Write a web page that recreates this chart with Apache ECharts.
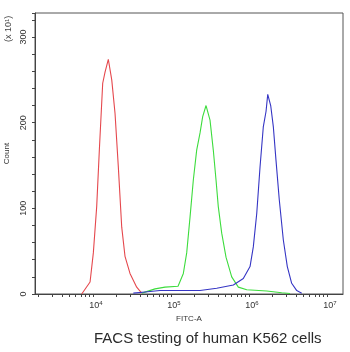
<!DOCTYPE html>
<html>
<head>
<meta charset="utf-8">
<script src="https://cdn.jsdelivr.net/npm/echarts@6/dist/echarts.min.js"></script>
<style>html,body{margin:0;padding:0;background:#fff}#c{width:350px;height:352px}</style>
</head>
<body>
<div id="c"></div>
<script>
// FITC-A values stored as log10 exponents; counts in units of x10^1
var redLogX = [3.855, 3.962, 4.004, 4.047, 4.081, 4.124, 4.154, 4.196, 4.240, 4.282, 4.324, 4.368, 4.410, 4.474, 4.560, 4.624];
var redCount = [0, 14, 48, 102, 168, 246, 259, 274, 250, 211, 149, 78, 44, 24, 8, 1];

var greenLogX = [4.628, 4.795, 4.923, 5.090, 5.158, 5.201, 5.244, 5.286, 5.329, 5.372, 5.406, 5.449, 5.500, 5.542, 5.577, 5.606, 5.650, 5.705, 5.778, 5.863, 5.971, 6.227, 6.419, 6.526];
var greenCount = [1, 6, 8, 9, 24, 48, 90, 133, 168, 188, 207, 220, 203, 168, 133, 102, 71, 43, 20, 8, 5, 3.5, 1.5, 0.5];

var blueLogX = [4.517, 4.667, 4.859, 5.115, 5.372, 5.586, 5.799, 5.927, 6.013, 6.055, 6.099, 6.141, 6.183, 6.218, 6.240, 6.278, 6.312, 6.346, 6.388, 6.440, 6.491, 6.547, 6.612, 6.676];
var blueCount = [1, 2.3, 4, 4, 4, 6.7, 10.5, 18, 32, 55, 94, 148, 195, 213, 233, 220, 195, 156, 110, 63, 32, 12.5, 4, 1];

var xMajorExp = [4, 5, 6, 7];
var xMin = 3.256, xMax = 7.205;
var yMax = 328;

function pairs(xs, ys) { return xs.map(function (x, i) { return [x, ys[i]]; }); }
var minorTicks = [];
for (var n = 3; n <= 7; n++) {
  for (var k = 1; k <= 9; k++) {
    var v = n + Math.log10(k);
    if (v >= xMin && v <= xMax) minorTicks.push(v);
  }
}
var font = 'Liberation Sans, Arial, sans-serif';
var chart = echarts.init(document.getElementById('c'));
chart.setOption({
  animation: false,
  textStyle: { fontFamily: font },
  grid: { left: 35, top: 13, right: 7, bottom: 58, show: true, borderColor: '#555', borderWidth: 1, outerBoundsMode: 'none', containLabel: false },
  title: {
    text: 'FACS testing of human K562 cells', left: 89, top: 326,
    textStyle: { fontSize: 15, fontWeight: 'normal', color: '#2a2a2a', fontFamily: font }
  },
  graphic: [{
    type: 'text', x: 4, y: 42, rotation: Math.PI / 2,
    style: {
      text: '(x 10{s|1})', fontSize: 9, fill: '#444', fontFamily: font,
      rich: { s: { fontSize: 6, verticalAlign: 'top', fill: '#444', padding: [0, 0, 4, 0] } }
    }
  }],
  xAxis: {
    type: 'value', min: xMin, max: xMax,
    name: 'FITC-A', nameLocation: 'middle', nameGap: 19,
    nameTextStyle: { fontSize: 8, color: '#333' },
    axisLine: { lineStyle: { color: '#444' } },
    axisTick: { show: true, length: 3, customValues: minorTicks, lineStyle: { color: '#444' } },
    axisLabel: {
      customValues: xMajorExp, margin: 6, color: '#333', fontSize: 9, padding: [0, 0, 0, 6],
      formatter: function (v) { return '10{s|' + Math.round(v) + '}'; },
      rich: { s: { fontSize: 6, verticalAlign: 'top', padding: [0, 0, 5, 0], color: '#333' } }
    },
    splitLine: { show: false }
  },
  yAxis: {
    type: 'value', min: 0, max: yMax, interval: 100,
    name: 'Count', nameLocation: 'middle', nameGap: 21, nameRotate: 90,
    nameTextStyle: { fontSize: 8, color: '#333' },
    axisLine: { show: true, lineStyle: { color: '#444' } },
    axisTick: { show: true, length: 3, lineStyle: { color: '#444' } },
    minorTick: { show: true, splitNumber: 5, length: 3, lineStyle: { color: '#444' } },
    axisLabel: { rotate: 90, margin: 7, fontSize: 9, color: '#333', showMaxLabel: false },
    splitLine: { show: false }
  },
  series: [
    { type: 'line', data: pairs(redLogX, redCount), showSymbol: false, smooth: false, lineStyle: { color: '#e5484d', width: 1.1 } },
    { type: 'line', data: pairs(greenLogX, greenCount), showSymbol: false, smooth: false, lineStyle: { color: '#3ddc3d', width: 1.1 } },
    { type: 'line', data: pairs(blueLogX, blueCount), showSymbol: false, smooth: false, lineStyle: { color: '#3535c4', width: 1.1 } }
  ]
});
</script>
</body>
</html>
